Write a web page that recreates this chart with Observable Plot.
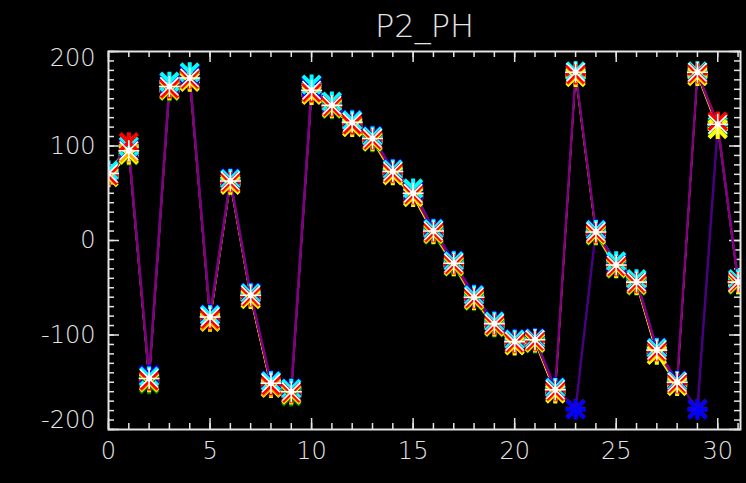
<!DOCTYPE html>
<html>
<head>
<meta charset="utf-8">
<script src="https://cdn.jsdelivr.net/npm/d3@7"></script>
<script src="https://cdn.jsdelivr.net/npm/@observablehq/plot@0.6"></script>
<style>
  html, body { margin: 0; padding: 0; background: #000; }
  #chart svg { display: block; }
</style>
</head>
<body>
<div id="chart"></div>
<script>
// ---- data ----
const title = "P2_PH";
const xValues = [0,1,2,3,4,5,6,7,8,9,10,11,12,13,14,15,16,17,18,19,20,21,22,23,24,25,26,27,28,29,30,31];
const seriesNames = ["indigo","purple","blue","cyan","green","yellow","orange","red","white"];
const indigoSeries = [72, 97,-144,165,174,-79,65,-56,-149,-157,161,145,127,110,75,52,12,-22,-58,-86,-105,-104,-156,-178,11,-24,-42,-114,-149,-178,121,-42];
const purpleSeries = [70, 96,-143,164,173,-80,64,-57,-150,-158,160,144,126,109,74,51,11,-23,-59,-87,-106,-104,-157, 177,10,-25,-43,-115,-149, 177,122,-43];
const blueSeries   = [73, 99,-142,167,176,-78,66,-55,-148,-156,163,146,128,111,76,53,13,-21,-57,-85,-104,-103,-155,-179,12,-23,-42,-113,-148,-179,120,-42];
const cyanSeries   = [74,100,-144,168,178,-79,65,-56,-149,-157,165,147,127,110,75,55,12,-22,-58,-86,-105,-104,-156, 179,11,-22,-41,-114,-149, 179,121,-41];
const greenSeries  = [68, 90,-152,158,169,-84,60,-61,-154,-165,155,139,121,104,70,47, 6,-28,-64,-92,-110,-109,-161, 174, 5,-30,-48,-120,-153, 175,119,-47];
const yellowSeries = [67, 91,-150,159,168,-86,59,-62,-156,-163,154,140,120,105,69,46, 7,-27,-63,-91,-111,-108,-162, 173, 6,-29,-47,-121,-154, 174,118,-46];
const orangeSeries = [69, 93,-149,160,170,-85,61,-60,-155,-162,156,141,122,106,71,48, 8,-26,-62,-90,-109,-107,-160, 175, 7,-28,-46,-118,-152, 176,125,-45];
const redSeries    = [69,104,-148,161,171,-83,62,-59,-153,-161,157,142,123,107,72,49, 9,-25,-61,-89,-108,-106,-159, 176, 8,-27,-45,-117,-151, 177,126,-44];
const whiteSeries  = [71, 95,-146,163,172,-81,63,-58,-151,-160,159,143,125,108,73,50,10,-24,-60,-88,-107,-105,-158, 178, 9,-26,-44,-116,-150, 178,123,-44];
const xTickValues = [0,5,10,15,20,25,30];
const yTickValues = [-200,-100,0,100,200];
const yTickLabels = ["-200","-100","0","100","200"];

// ---- styles ----
const seriesColors = ["#4a0088","#5e0078","#1a10f0","#00b4ff","#10d810","#f0e000","#ff8c00","#f00000","#ffffff"];
const fg = "#e4e4e4";
const W = 746, H = 483;
const mL = 108, mR = 6, mT = 51, mB = 54;
const frameH = H - mT - mB, frameW = W - mL - mR;
const font = "'DejaVu Sans', sans-serif";

const allSeries = [indigoSeries, purpleSeries, blueSeries, cyanSeries, greenSeries, yellowSeries, orangeSeries, redSeries, whiteSeries];
const rows = [];
seriesNames.forEach((name, i) => {
  allSeries[i].forEach((v, j) => rows.push({x: xValues[j], y: v, series: name}));
});
const colored = rows.filter(d => !["white", "purple", "indigo"].includes(d.series));
const darkRows = rows.filter(d => d.series === "purple" || d.series === "indigo");
const markerRows = rows.filter(d => d.series !== "white");
const whiteRows = rows.filter(d => d.series === "white");

const xMinor = d3.range(0, 32, 1);
const yMinor = d3.range(-200, 201, 10);

const chart = Plot.plot({
  width: W, height: H,
  marginLeft: mL, marginRight: mR, marginTop: mT, marginBottom: mB,
  style: {background: "#000", color: fg, fontFamily: font},
  x: {domain: [0, 31.12], axis: null},
  y: {domain: [-200, 200], axis: null},
  color: {domain: seriesNames, range: seriesColors},
  marks: [
    // ticks (inward, all four sides)
    Plot.ruleX(xMinor, {x: d => d, insetTop: frameH - 6, stroke: fg, strokeWidth: 1.5}),
    Plot.ruleX(xMinor, {x: d => d, insetBottom: frameH - 6, stroke: fg, strokeWidth: 1.5}),
    Plot.ruleX(xTickValues, {x: d => d, insetTop: frameH - 11, stroke: fg, strokeWidth: 1.5}),
    Plot.ruleX(xTickValues, {x: d => d, insetBottom: frameH - 11, stroke: fg, strokeWidth: 1.5}),
    Plot.ruleY(yMinor, {y: d => d, insetRight: frameW - 6, stroke: fg, strokeWidth: 1.5}),
    Plot.ruleY(yMinor, {y: d => d, insetLeft: frameW - 6, stroke: fg, strokeWidth: 1.5}),
    Plot.ruleY(yTickValues, {y: d => d, insetRight: frameW - 11, stroke: fg, strokeWidth: 1.5}),
    Plot.ruleY(yTickValues, {y: d => d, insetLeft: frameW - 11, stroke: fg, strokeWidth: 1.5}),
    // lines
    Plot.line(colored, {x: "x", y: "y", z: "series", stroke: "series", strokeWidth: 1.2, clip: true}),
    Plot.line(darkRows, {x: "x", y: "y", z: "series", stroke: "series", strokeWidth: 2.4, clip: true}),
    // colored asterisk markers
    Plot.dot(markerRows, {x: "x", y: "y", stroke: "series", symbol: "plus", r: 6.5, strokeWidth: 4, clip: true}),
    Plot.dot(markerRows, {x: "x", y: "y", stroke: "series", symbol: "times", r: 8, strokeWidth: 4, clip: true}),
    // white asterisks on top
    Plot.dot(whiteRows, {x: "x", y: "y", stroke: "#ffffff", symbol: "plus", r: 6.8, strokeWidth: 1.6, clip: true}),
    Plot.dot(whiteRows, {x: "x", y: "y", stroke: "#ffffff", symbol: "times", r: 8.3, strokeWidth: 1.6, clip: true}),
    Plot.dot(whiteRows, {x: "x", y: "y", fill: "#ffffff", r: 3, clip: true}),
    // frame
    Plot.frame({stroke: fg, strokeWidth: 2}),
    // tick labels
    Plot.text(xTickValues, {x: d => d, frameAnchor: "bottom", dy: 29, text: d => String(d), fill: fg, fontSize: 24, fontWeight: 300}),
    Plot.text(yTickValues.slice(1, 4), {y: d => d, frameAnchor: "left", dx: -13, textAnchor: "end", text: (d, i) => yTickLabels[i + 1], fill: fg, fontSize: 24, fontWeight: 300}),
    Plot.text([yTickValues[4]], {y: d => d, frameAnchor: "left", dx: -13, dy: 7, textAnchor: "end", text: () => yTickLabels[4], fill: fg, fontSize: 24, fontWeight: 300}),
    Plot.text([yTickValues[0]], {y: d => d, frameAnchor: "left", dx: -13, dy: -9, textAnchor: "end", text: () => yTickLabels[0], fill: fg, fontSize: 24, fontWeight: 300}),
    // title
    Plot.text([title], {frameAnchor: "top", dy: -37, text: d => d, fill: fg, fontSize: 32, fontWeight: 300})
  ]
});
document.getElementById("chart").appendChild(chart);
</script>
</body>
</html>
